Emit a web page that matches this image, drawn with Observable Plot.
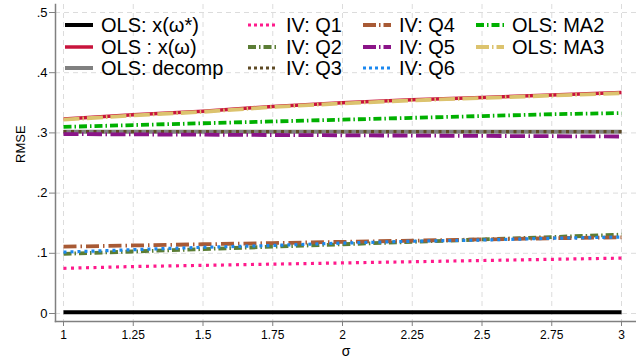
<!DOCTYPE html>
<html>
<head>
<meta charset="utf-8">
<script src="https://cdn.jsdelivr.net/npm/d3@7"></script>
<script src="https://cdn.jsdelivr.net/npm/@observablehq/plot@0.6"></script>
<style>
  html, body { margin: 0; padding: 0; background: #fff; }
  #wrap { position: relative; width: 636px; height: 364px; font-family: "Liberation Sans", Arial, sans-serif; }
  #wrap svg { display: block; }
  .leg { position: absolute; height: 22px; line-height: 22px; font-size: 20px; color: #000; white-space: nowrap; }
  .sw { position: absolute; }
</style>
</head>
<body>
<div id="wrap"></div>
<script>
// ---- data ----
const sigma = [1, 1.25, 1.5, 1.75, 2, 2.25, 2.5, 2.75, 3];
const olsOmegaStar = [0.002, 0.002, 0.002, 0.002, 0.002, 0.002, 0.002, 0.002, 0.002];
const olsOmega     = [0.323, 0.330, 0.336, 0.344, 0.350, 0.355, 0.359, 0.363, 0.367];
const olsDecomp    = [0.302, 0.302, 0.302, 0.302, 0.302, 0.302, 0.302, 0.302, 0.302];
const ivQ1 = [0.075, 0.078, 0.080, 0.082, 0.084, 0.086, 0.088, 0.090, 0.092];
const ivQ2 = [0.099, 0.103, 0.107, 0.111, 0.115, 0.119, 0.123, 0.127, 0.131];
const ivQ3 = [0.302, 0.302, 0.302, 0.302, 0.302, 0.302, 0.302, 0.302, 0.302];
const ivQ4 = [0.111, 0.113, 0.115, 0.117, 0.119, 0.121, 0.123, 0.125, 0.1265];
const ivQ5 = [0.298, 0.2975, 0.297, 0.2965, 0.296, 0.2955, 0.295, 0.2945, 0.294];
const ivQ6 = [0.102, 0.106, 0.110, 0.113, 0.117, 0.120, 0.122, 0.125, 0.127];
const olsMA2 = [0.310, 0.313, 0.316, 0.319, 0.322, 0.325, 0.328, 0.331, 0.333];
const olsMA3 = [0.322, 0.329, 0.335, 0.343, 0.349, 0.354, 0.358, 0.362, 0.366];
const xTicks = [1, 1.25, 1.5, 1.75, 2, 2.25, 2.5, 2.75, 3];
const xTickLabels = ["1", "1.25", "1.5", "1.75", "2", "2.25", "2.5", "2.75", "3"];
const yTicks = [0, 0.1, 0.2, 0.3, 0.4, 0.5];
const yTickLabels = ["0", ".1", ".2", ".3", ".4", ".5"];
const xTitle = "\u03c3";
const yTitle = "RMSE";

// ---- series styles ----
const series = [
  {name: "OLS: x(\u03c9*)", values: olsOmegaStar, color: "#000000", width: 4,   dash: null,            legDash: null,         col: 0, row: 0},
  {name: "OLS : x(\u03c9)",  values: olsOmega,     color: "#c8143c", width: 3.5, dash: null,            legDash: null,         col: 0, row: 1},
  {name: "OLS: decomp",       values: olsDecomp,    color: "#808080", width: 4,   dash: null,            legDash: null,         col: 0, row: 2},
  {name: "IV: Q1", values: ivQ1, color: "#ff1a8c", width: 3.2, dash: "3,4.5",       legDash: "3,3",        col: 1, row: 0},
  {name: "IV: Q2", values: ivQ2, color: "#5b7d35", width: 3.8, dash: "8,3,1.5,3",   legDash: "8,3,1.5,3",  col: 1, row: 1},
  {name: "IV: Q3", values: ivQ3, color: "#5e4a25", width: 3.2, dash: "3,4.5",       legDash: "3,3",        col: 1, row: 2},
  {name: "IV: Q4", values: ivQ4, color: "#a85a35", width: 3.8, dash: "13,4,1.5,4",  legDash: "13,3,1.5,3", col: 2, row: 0},
  {name: "IV: Q5", values: ivQ5, color: "#8b1488", width: 3.8, dash: "15,3.5,1.5,3.5", legDash: "13,3,1.5,3", col: 2, row: 1},
  {name: "IV: Q6", values: ivQ6, color: "#1a88f0", width: 3.2, dash: "3,4",         legDash: "3,3",        col: 2, row: 2},
  {name: "OLS: MA2", values: olsMA2, color: "#00b000", width: 3.8, dash: "8,3,1.5,3",   legDash: "8,3,1.5,3",  col: 3, row: 0},
  {name: "OLS: MA3", values: olsMA3, color: "#dcc36e", width: 3.8, dash: "16,3,1.5,3",  legDash: "13,3,1.5,3", col: 3, row: 1}
];

const marks = [
  Plot.gridX(xTicks, {stroke: "#dcdcdc", strokeOpacity: 1, strokeDasharray: "5,4"}),
  Plot.gridY(yTicks, {stroke: "#dcdcdc", strokeOpacity: 1, strokeDasharray: "5,4"}),
  Plot.frame({anchor: "left", stroke: "#808080", strokeWidth: 1.5}),
  Plot.frame({anchor: "bottom", stroke: "#808080", strokeWidth: 1.5}),
  Plot.axisX(xTicks, {anchor: "bottom", tickSize: 5, tickPadding: 4, fontSize: 12, stroke: "#808080",
    tickFormat: d => xTickLabels[xTicks.indexOf(d)], label: null}),
  Plot.axisY(yTicks, {anchor: "left", tickSize: 6, tickPadding: 2, fontSize: 13, stroke: "#808080",
    tickFormat: d => yTickLabels[yTicks.indexOf(d)], label: null}),
  Plot.text([xTitle], {frameAnchor: "bottom", dy: 34, fontSize: 14, fill: "#000"}),
  Plot.text([yTitle], {frameAnchor: "left", dx: -35, rotate: -90, fontSize: 13, fill: "#000"})
];
for (const s of series) {
  const data = sigma.map((x, i) => ({x, y: s.values[i]}));
  marks.push(Plot.line(data, {x: "x", y: "y", stroke: s.color, strokeWidth: s.width,
    strokeDasharray: s.dash || undefined, strokeLinecap: "butt", strokeLinejoin: "round"}));
}

const chart = Plot.plot({
  width: 636, height: 364,
  marginLeft: 55, marginRight: 0, marginTop: 4, marginBottom: 43,
  style: {fontFamily: "Liberation Sans, Arial, sans-serif", fontSize: "12px", color: "#000", background: "#fff"},
  x: {domain: [1, 3], insetLeft: 8, insetRight: 15},
  y: {domain: [0, 0.5], insetTop: 8, insetBottom: 8},
  marks
});
const wrap = document.getElementById("wrap");
wrap.appendChild(chart);

// ---- legend overlay ----
const swX = [65, 248, 363, 476];
const txX = [101, 286, 399, 512];
const rowY = [25, 46.5, 68];
for (const s of series) {
  const sw = document.createElementNS("http://www.w3.org/2000/svg", "svg");
  sw.setAttribute("width", 28); sw.setAttribute("height", 8);
  sw.setAttribute("class", "sw");
  sw.style.left = swX[s.col] + "px";
  sw.style.top = (rowY[s.row] - 4) + "px";
  const ln = document.createElementNS("http://www.w3.org/2000/svg", "line");
  ln.setAttribute("x1", 0); ln.setAttribute("x2", 28); ln.setAttribute("y1", 4); ln.setAttribute("y2", 4);
  ln.setAttribute("stroke", s.color); ln.setAttribute("stroke-width", s.width);
  if (s.legDash) ln.setAttribute("stroke-dasharray", s.legDash);
  sw.appendChild(ln);
  wrap.appendChild(sw);
  const t = document.createElement("div");
  t.className = "leg";
  t.textContent = s.name;
  t.style.left = txX[s.col] + "px";
  t.style.top = (rowY[s.row] - 11) + "px";
  wrap.appendChild(t);
}
</script>
</body>
</html>
